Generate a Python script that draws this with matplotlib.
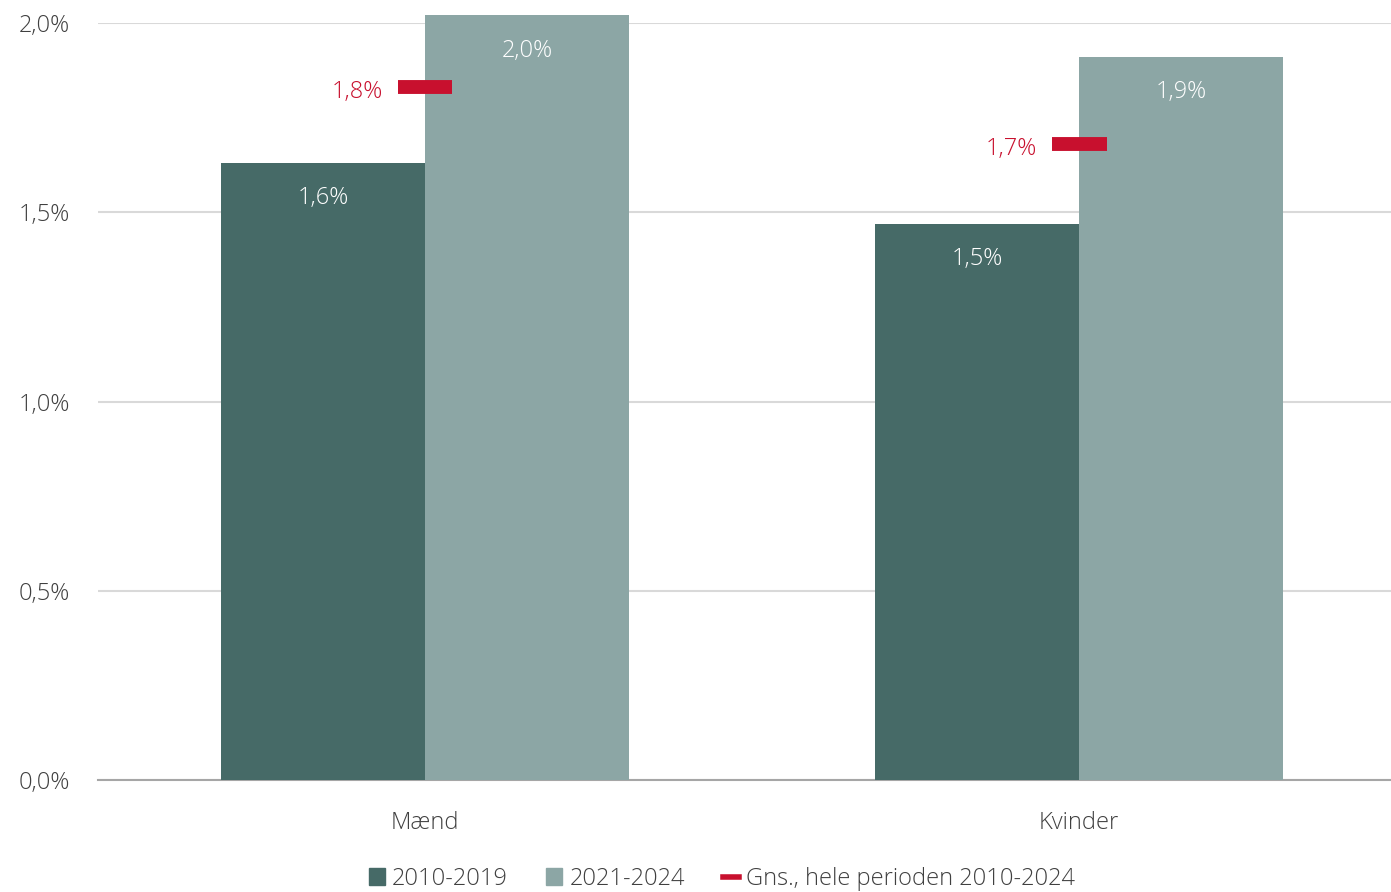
import matplotlib.pyplot as plt
import numpy as np
from matplotlib.lines import Line2D
from matplotlib.patches import Patch

plt.rcParams['font.family'] = ['Open Sans', 'DejaVu Sans']

categories = ['Mænd', 'Kvinder']
p2010_2019 = [1.63, 1.47]
p2021_2024 = [2.02, 1.91]
avg_all = [1.83, 1.68]
avg_labels = ['1,8%', '1,7%']
lab_2010 = ['1,6%', '1,5%']
lab_2021 = ['2,0%', '1,9%']

dark = '#466A67'
light = '#8CA6A5'
red = '#C8102E'

fig = plt.figure(figsize=(13.91, 8.92), dpi=100)
ax = fig.add_axes([98 / 1391, 1 - 780 / 892, 1 - 98 / 1391, (780 - 23) / 892])

x = np.arange(len(categories))
w = 0.312
ax.bar(x - w / 2, p2010_2019, w, color=dark, clip_on=False, zorder=3)
ax.bar(x + w / 2, p2021_2024, w, color=light, clip_on=False, zorder=3)

for i in range(len(categories)):
    ax.text(x[i] - w / 2, p2010_2019[i] - 0.093, lab_2010[i], color='white',
            ha='center', va='center', fontsize=17, fontweight='light', zorder=4)
    ax.text(x[i] + w / 2, p2021_2024[i] - 0.093, lab_2021[i], color='white',
            ha='center', va='center', fontsize=17, fontweight='light', zorder=4)
    ax.plot([x[i] - 0.042, x[i] + 0.042], [avg_all[i], avg_all[i]], color=red,
            lw=10, solid_capstyle='butt', zorder=5)
    ax.text(x[i] - 0.065, avg_all[i] - 0.013, avg_labels[i], color=red,
            ha='right', va='center', fontsize=17, fontweight='light', zorder=4)

ax.set_xlim(-0.5, 1.477)
ax.set_ylim(0, 2.0)
ax.set_yticks([0, 0.5, 1.0, 1.5, 2.0])
ax.set_yticklabels(['0,0%', '0,5%', '1,0%', '1,5%', '2,0%'], fontsize=17,
                   fontweight='light', color='#404040')
ax.set_xticks(x)
ax.set_xticklabels(categories, fontsize=17, fontweight='light', color='#404040')
ax.tick_params(axis='both', length=0)
ax.tick_params(axis='y', pad=20)
ax.tick_params(axis='x', pad=22)

ax.grid(axis='y', color='#D9D9D9', lw=1.5, zorder=0)
for s in ['top', 'right', 'left']:
    ax.spines[s].set_visible(False)
ax.spines['bottom'].set_color('#A6A6A6')
ax.spines['bottom'].set_linewidth(1.5)

handles = [Patch(color=dark, label='2010-2019'),
           Patch(color=light, label='2021-2024'),
           Line2D([0], [0], color=red, lw=4, label='Gns., hele perioden 2010-2024')]
fig.legend(handles=handles, loc='center', bbox_to_anchor=(722 / 1391, 1 - 879 / 892),
           ncol=3, frameon=False, handlelength=0.7, handleheight=0.7,
           handletextpad=0.3, columnspacing=1.6, prop={'size': 17, 'weight': 'light'})
for t in fig.legends[0].get_texts():
    t.set_color('#404040')

fig.savefig('out.png', dpi=100)
